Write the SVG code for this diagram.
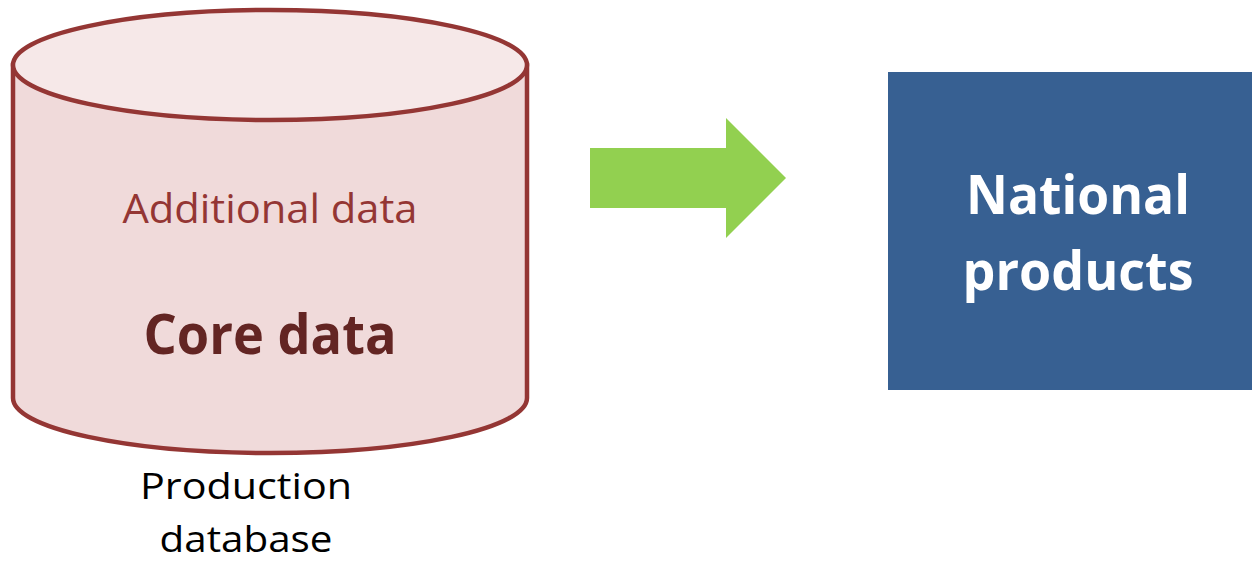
<svg xmlns="http://www.w3.org/2000/svg" width="1252" height="563" viewBox="0 0 1252 563">
<style>
.t{font-family:"Open Sans","Liberation Sans",sans-serif;text-anchor:middle}
.cyl{stroke:#943634;stroke-width:4.5}
</style>
<rect width="1252" height="563" fill="#ffffff"/>
<g id="production-db">
<path class="cyl" fill="#f0dada" d="M13,65 L13,398 A257,55 0 0 0 527,398 L527,65 Z"/>
<ellipse class="cyl" cx="270" cy="65" rx="257" ry="55" fill="#f6e8e8"/>
<text class="t" x="270" y="223" font-size="41" fill="#943634" textLength="295" lengthAdjust="spacingAndGlyphs">Additional data</text>
<text class="t" x="270" y="354" font-size="55" font-weight="bold" fill="#632523" textLength="253" lengthAdjust="spacingAndGlyphs">Core data</text>
<text class="t" x="246" y="499" font-size="37" fill="#000000" textLength="212" lengthAdjust="spacingAndGlyphs">Production</text>
<text class="t" x="246" y="552" font-size="37" fill="#000000" textLength="173" lengthAdjust="spacingAndGlyphs">database</text>
</g>
<g id="connectors">
<polygon points="590,148 726,148 726,118 786,178 726,238 726,208 590,208" fill="#92d050"/>
</g>
<g id="national-products">
<rect x="888" y="72" width="364" height="318" fill="#376092"/>
<text class="t" x="1078" y="214" font-size="54" font-weight="bold" fill="#ffffff" textLength="224" lengthAdjust="spacingAndGlyphs">National</text>
<text class="t" x="1078" y="290" font-size="54" font-weight="bold" fill="#ffffff" textLength="231" lengthAdjust="spacingAndGlyphs">products</text>
</g>
</svg>
